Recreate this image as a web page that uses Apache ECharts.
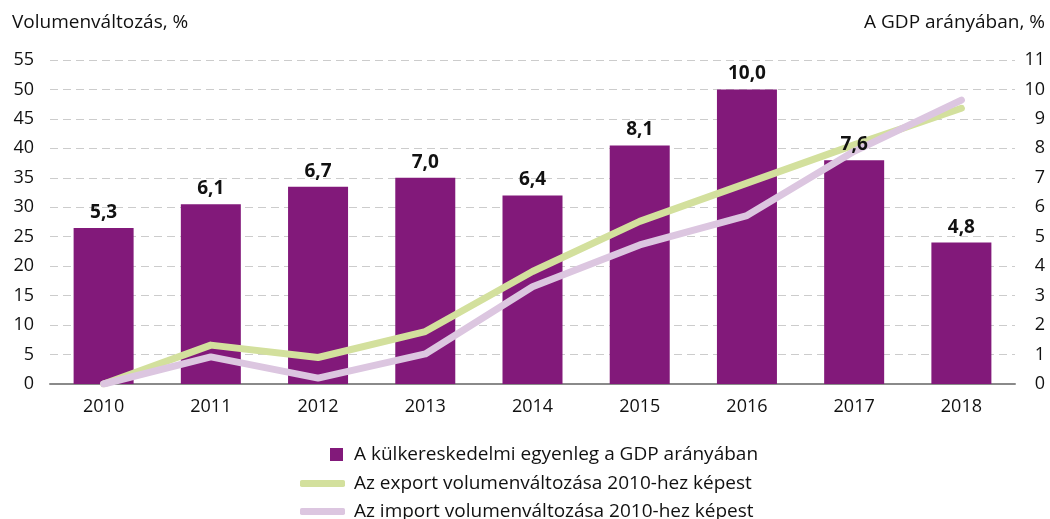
<!DOCTYPE html>
<html>
<head>
<meta charset="utf-8">
<script src="https://cdn.jsdelivr.net/npm/echarts@6/dist/echarts.min.js"></script>
<style>
  html, body { margin: 0; padding: 0; background: #fff; }
  #chart { width: 1050px; height: 519px; }
</style>
</head>
<body>
<div id="chart"></div>
<script>
// categories and values
const years = ['2010', '2011', '2012', '2013', '2014', '2015', '2016', '2017', '2018'];
const balanceGdp = [5.3, 6.1, 6.7, 7.0, 6.4, 8.1, 10.0, 7.6, 4.8];
const exportVol = [0, 6.6, 4.5, 8.9, 19.1, 27.6, 34.1, 40.6, 46.8];
const importVol = [0, 4.6, 1.0, 5.1, 16.5, 23.6, 28.6, 39.5, 48.2];

const names = [
    'A külkereskedelmi egyenleg a GDP arányában',
    'Az export volumenváltozása 2010-hez képest',
    'Az import volumenváltozása 2010-hez képest'
];

const font = '"Open Sans", "Noto Sans", sans-serif';
const purple = '#82197a';
const green = '#d3e09d';
const lilac = '#dcc6e0';

const chart = echarts.init(document.getElementById('chart'));

// one legend per row so the icons can differ
const legendRow = (name, left, top, w, h, icon, gap) => ({
    data: [name], left: left, top: top, padding: 0,
    selectedMode: false,
    itemWidth: w, itemHeight: h, icon: icon,
    textStyle: { fontFamily: font, fontSize: 19, color: '#111', padding: [0, 0, 0, gap] }
});

chart.setOption({
    animation: false,
    textStyle: { fontFamily: font },
    grid: { left: 50, right: 35, top: 60, bottom: 135 },
    graphic: [
        { type: 'text', left: 12, top: 13,
          style: { text: 'Volumenváltozás, %', fontFamily: font, fontSize: 19, fill: '#111' } },
        { type: 'text', right: 5, top: 13,
          style: { text: 'A GDP arányában, %', fontFamily: font, fontSize: 19, fill: '#111' } }
    ],
    legend: [
        legendRow(names[0], 330, 445, 13, 13, 'rect', 6),
        legendRow(names[1], 300, 474, 45, 7, 'roundRect', 4),
        legendRow(names[2], 300, 502, 45, 7, 'roundRect', 4)
    ],
    xAxis: {
        type: 'category',
        data: years,
        axisLine: { lineStyle: { color: '#8a8a8a', width: 2 } },
        axisTick: { length: 8, lineStyle: { color: '#8a8a8a', width: 2 } },
        axisLabel: { fontSize: 18, color: '#111', margin: 14 }
    },
    yAxis: [
        {
            type: 'value', min: 0, max: 55, interval: 5,
            axisLine: { show: false }, axisTick: { show: false },
            axisLabel: { fontSize: 18, color: '#111', margin: 16 },
            splitLine: { lineStyle: { color: '#cccccc', type: [8, 5], width: 1 } }
        },
        {
            type: 'value', min: 0, max: 11, interval: 1, position: 'right',
            axisLine: { show: false }, axisTick: { show: false },
            axisLabel: { fontSize: 18, color: '#111', margin: 30, align: 'right' },
            splitLine: { show: false }
        }
    ],
    series: [
        {
            name: names[0],
            type: 'bar',
            yAxisIndex: 1,
            barWidth: 60,
            data: balanceGdp,
            itemStyle: { color: purple }
        },
        {
            name: names[1],
            type: 'line',
            yAxisIndex: 0,
            data: exportVol,
            symbol: 'none',
            itemStyle: { color: green },
            lineStyle: { color: green, width: 7, cap: 'round', join: 'round' }
        },
        {
            name: names[2],
            type: 'line',
            yAxisIndex: 0,
            data: importVol,
            symbol: 'none',
            itemStyle: { color: lilac },
            lineStyle: { color: lilac, width: 7, cap: 'round', join: 'round' }
        },
        {
            // transparent copy of the bars that only carries the value labels above the lines
            name: 'labels',
            type: 'bar',
            yAxisIndex: 1,
            barWidth: 60,
            barGap: '-100%',
            z: 10,
            silent: true,
            data: balanceGdp,
            itemStyle: { color: 'rgba(0,0,0,0)' },
            label: {
                show: true, position: 'top', distance: 6,
                fontSize: 19, fontWeight: 'bold', color: '#111',
                formatter: (p) => p.value.toFixed(1).replace('.', ',')
            }
        }
    ]
});
</script>
</body>
</html>
